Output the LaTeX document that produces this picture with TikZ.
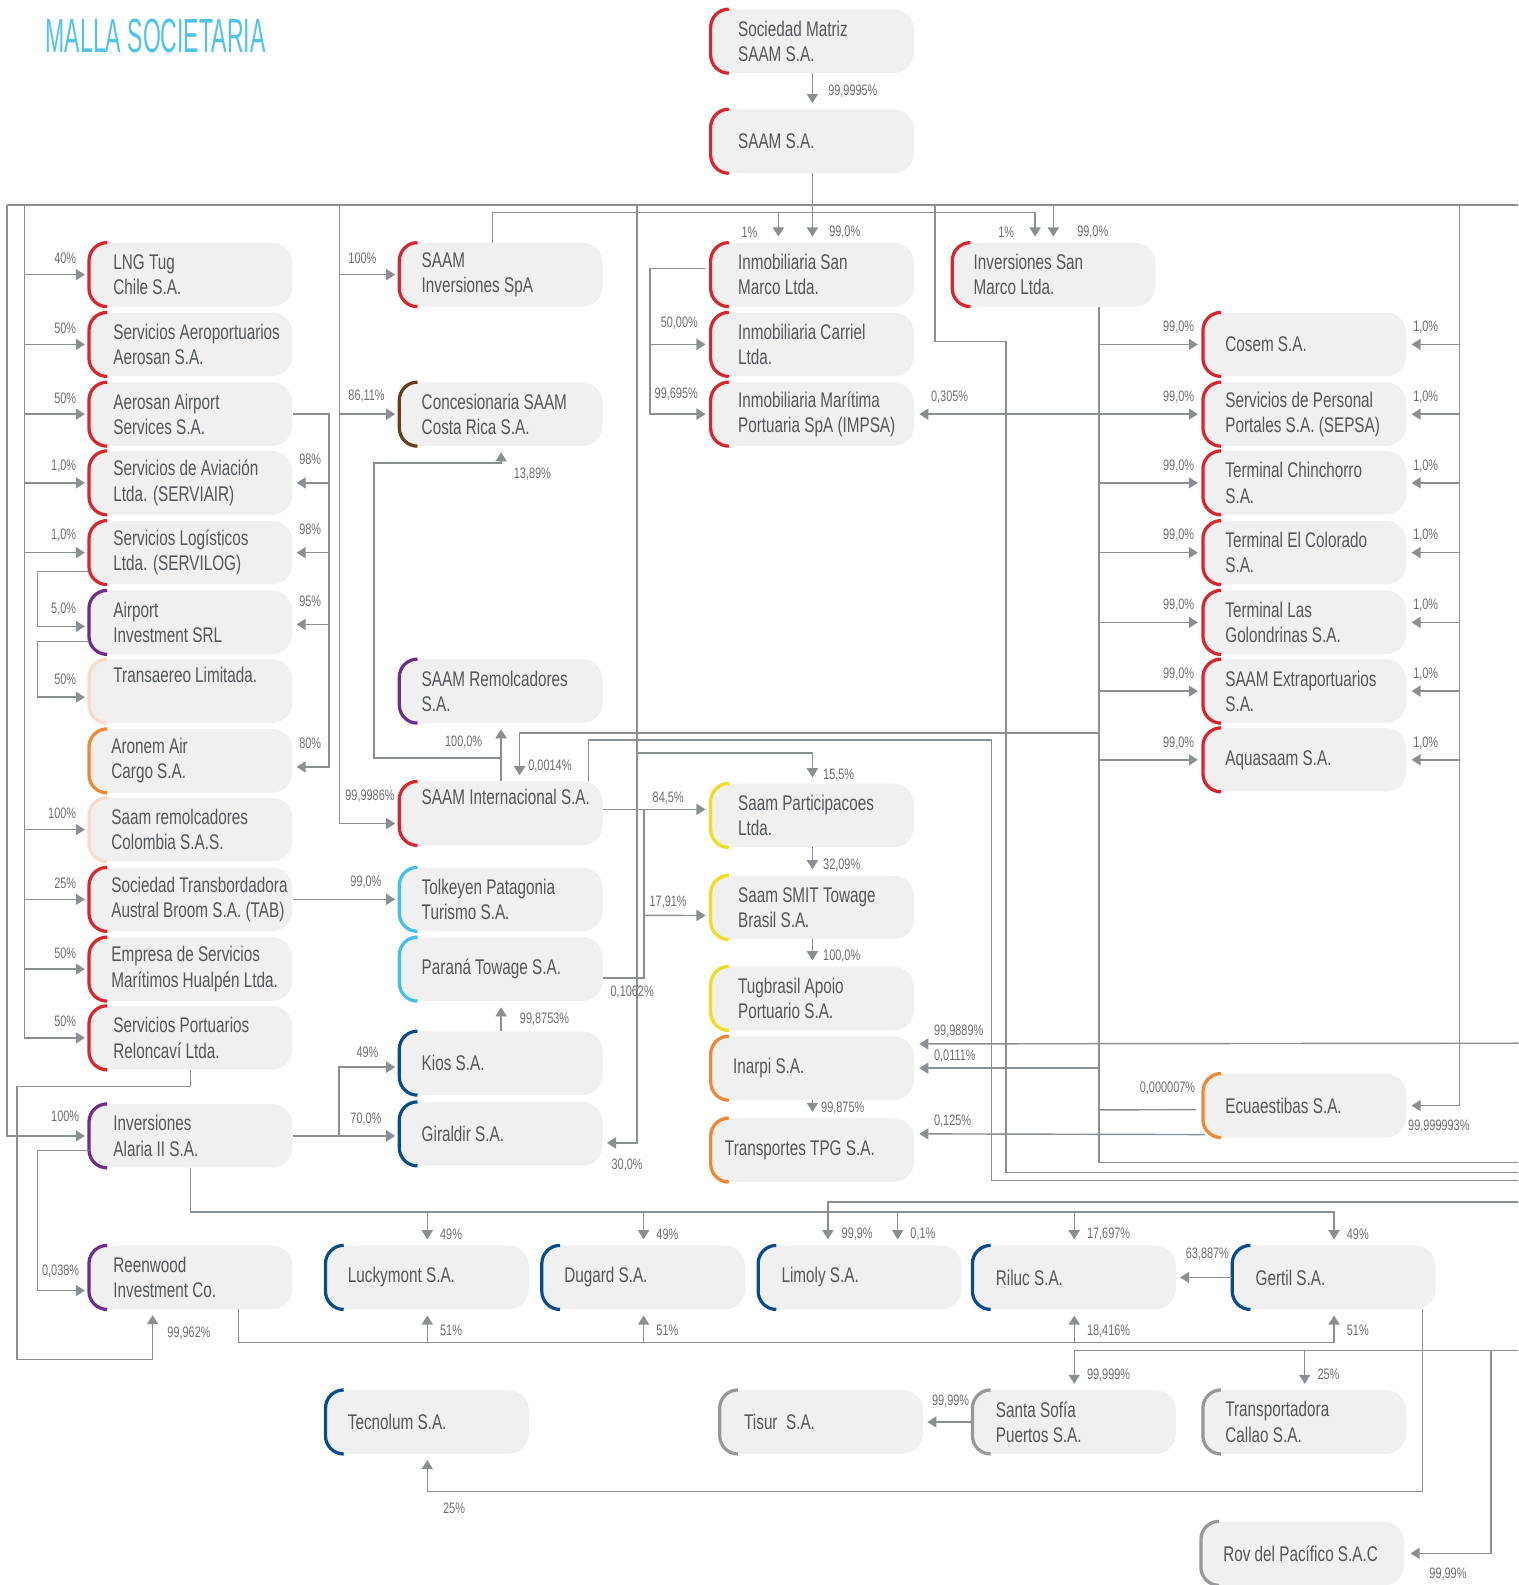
\documentclass[tikz,border=0pt]{standalone}
\usepackage{fontspec}
\setmainfont[FakeStretch=0.72]{Liberation Sans}
\newfontfamily\titlefont[FakeStretch=0.48]{Liberation Sans}
\usetikzlibrary{arrows.meta,positioning}
\definecolor{boxfill}{RGB}{240,240,240}
\definecolor{firmtxt}{RGB}{82,87,92}
\definecolor{linkgray}{RGB}{138,143,148}
\definecolor{pctgray}{RGB}{105,110,115}
\definecolor{titlecyan}{RGB}{80,195,235}
\definecolor{saamred}{RGB}{218,37,45}
\definecolor{saambrown}{RGB}{105,60,30}
\definecolor{saampurple}{RGB}{110,45,135}
\definecolor{saampeach}{RGB}{250,218,200}
\definecolor{saamorange}{RGB}{240,135,50}
\definecolor{saamsky}{RGB}{65,192,238}
\definecolor{saamyellow}{RGB}{238,222,30}
\definecolor{saamnavy}{RGB}{10,75,140}
\definecolor{saamgray}{RGB}{150,152,155}

\begin{document}
\begin{tikzpicture}[x=1pt, y=-1pt,
    firm/.style={fill=boxfill, rounded corners=20pt, minimum width=201pt, minimum height=63pt, anchor=north west, inner sep=0pt},
    firmtext/.style={anchor=west, align=left, inner sep=0pt, text=firmtxt, font=\fontsize{21pt}{25pt}\selectfont},
    bracket/.style={line width=3.2pt, draw=#1},
    link/.style={draw=linkgray, line width=1.4pt},
    arr/.style={link, -{Triangle[length=9pt, width=11pt]}},
    pct/.style={inner sep=0pt, text=pctgray, font=\fontsize{15pt}{17pt}\selectfont}]
  \useasboundingbox (0,0) rectangle (1502,1568);

  \node[anchor=base west, inner sep=0pt, text=titlecyan, font=\titlefont\fontsize{47.5pt}{50pt}\selectfont] (title) at (45,52) {MALLA SOCIETARIA};

  % companies: name/x/y/colour/text indent/text
  \foreach \nm/\px/\py/\col/\dx/\txt in {
      matriz/703/9/saamred/27/{Sociedad Matriz\\SAAM S.A.},
      saam/703/108/saamred/27/{SAAM S.A.},
      lng/88/240/saamred/24/{LNG Tug\\Chile S.A.},
      aerosan/88/309/saamred/24/{Servicios Aeroportuarios\\Aerosan S.A.},
      aas/88/378/saamred/24/{Aerosan Airport\\Services S.A.},
      serviair/88/446/saamred/24/{Servicios de Aviación\\Ltda. (SERVIAIR)},
      servilog/88/515/saamred/24/{Servicios Logísticos\\Ltda. (SERVILOG)},
      airport/88/584/saampurple/24/{Airport\\Investment SRL},
      transaereo/88/652/saampeach/24/{Transaereo Limitada.\\\strut},
      aronem/88/721/saamorange/22/{Aronem Air\\Cargo S.A.},
      colombia/88/789/saampeach/22/{Saam remolcadores\\Colombia S.A.S.},
      tab/88/858/saamred/22/{Sociedad Transbordadora\\Austral Broom S.A. (TAB)},
      hualpen/88/927/saamred/22/{Empresa de Servicios\\Marítimos Hualpén Ltda.},
      reloncavi/88/995/saamred/24/{Servicios Portuarios\\Reloncaví Ltda.},
      alaria/88/1092/saampurple/24/{Inversiones\\Alaria II S.A.},
      reenwood/88/1232/saampurple/24/{Reenwood\\Investment Co.},
      spa/395/240/saamred/22/{SAAM\\Inversiones SpA},
      costarica/395/378/saambrown/22/{Concesionaria SAAM\\Costa Rica S.A.},
      remolc/395/652/saampurple/22/{SAAM Remolcadores\\S.A.},
      sint/395/773/saamred/22/{SAAM Internacional S.A.\\\strut},
      tolkeyen/395/858/saamsky/22/{Tolkeyen Patagonia\\Turismo S.A.},
      parana/395/927/saamsky/22/{Paraná Towage S.A.},
      kios/395/1020/saamnavy/22/{Kios S.A.},
      giraldir/395/1090/saamnavy/22/{Giraldir S.A.},
      smarco/703/240/saamred/27/{Inmobiliaria San\\Marco Ltda.},
      carriel/703/309/saamred/27/{Inmobiliaria Carriel\\Ltda.},
      impsa/703/378/saamred/27/{Inmobiliaria Marítima\\Portuaria SpA (IMPSA)},
      partic/703/775/saamyellow/27/{Saam Participacoes\\Ltda.},
      smit/703/866/saamyellow/27/{Saam SMIT Towage\\Brasil S.A.},
      tugbrasil/703/956/saamyellow/27/{Tugbrasil Apoio\\Portuario S.A.},
      inarpi/703/1025/saamorange/22/{Inarpi S.A.},
      tpg/703/1106/saamorange/14/{Transportes TPG S.A.},
      invsm/942/240/saamred/21/{Inversiones San\\Marco Ltda.},
      cosem/1190/309/saamred/22/{Cosem S.A.},
      sepsa/1190/378/saamred/22/{Servicios de Personal\\Portales S.A. (SEPSA)},
      chinchorro/1190/446/saamred/22/{Terminal Chinchorro\\S.A.},
      colorado/1190/515/saamred/22/{Terminal El Colorado\\S.A.},
      golond/1190/584/saamred/22/{Terminal Las\\Golondrinas S.A.},
      extra/1190/652/saamred/22/{SAAM Extraportuarios\\S.A.},
      aquasaam/1190/720/saamred/22/{Aquasaam S.A.},
      ecua/1190/1062/saamorange/22/{Ecuaestibas S.A.},
      lucky/322/1232/saamnavy/22/{Luckymont S.A.},
      dugard/536/1232/saamnavy/22/{Dugard S.A.},
      limoly/750/1232/saamnavy/23/{Limoly S.A.},
      riluc/962/1232/saamnavy/23/{Riluc S.A.},
      gertil/1219/1232/saamnavy/23/{Gertil S.A.},
      tecnolum/322/1375/saamnavy/22/{Tecnolum S.A.},
      tisur/712/1375/saamgray/24/{Tisur\ \ S.A.},
      sofia/962/1375/saamgray/23/{Santa Sofía\\Puertos S.A.},
      callao/1190/1375/saamgray/22/{Transportadora\\Callao S.A.},
      rov/1188/1505/saamgray/22/{Rov del Pacífico S.A.C}}{
    \node[firm] (\nm) at (\px,\py) {};
    \node[firmtext] (\nm-t) at ([xshift=\dx pt]\nm.west) {\txt};
    \draw[bracket=\col] ([xshift=18pt]\nm.north west) arc[start angle=90, end angle=180, radius=18pt]
      -- ([yshift=18pt]\nm.south west) arc[start angle=180, end angle=270, radius=18pt];
  }

  % top of the tree
  \draw[arr] (matriz.south) -- ([yshift=6pt]saam.north) node[pct, right=15pt, yshift=12pt] (p-saam) {99,9995\%};
  \draw[link] (7,203) -- (1502,203);
  \draw[arr] (saam.south) -- ([yshift=6pt]smarco.north) node[pct, right=16pt, yshift=4pt] (p-sm99) {99,0\%};
  \draw[link] ([xshift=92pt]spa.north west) |- (1024,210);
  \draw[arr] (770,210) -- ([xshift=67pt,yshift=6pt]smarco.north west) node[pct, left=20pt, yshift=4pt] (p-sm1) {1\%};
  \draw[arr] (1024,210) -- ([xshift=82pt,yshift=6pt]invsm.north west) node[pct, left=20pt, yshift=4pt] (p-ism1) {1\%};
  \draw[arr] (1042,203) -- ([xshift=100pt,yshift=6pt]invsm.north west) node[pct, right=23pt, yshift=4pt] (p-ism99) {99,0\%};

  % left trunk
  \foreach \nm/\pc in {lng/40\%, aerosan/50\%, aas/50\%, serviair/{1,0\%}, servilog/{1,0\%}, colombia/100\%, tab/25\%, hualpen/50\%, reloncavi/50\%}
    \draw[arr] (24,203) |- ([xshift=-4pt]\nm.west) node[pct, above left=10pt and 8pt] (p-\nm) {\pc};
  \draw[arr] ([yshift=13pt]servilog.south west) -- ++(-51,0) |- ([xshift=-4pt,yshift=-4pt]airport.west) node[pct, above left=10pt and 8pt] (p-airport) {5,0\%};
  \draw[arr] ([yshift=13pt]airport.south west) -- ++(-51,0) |- ([xshift=-4pt,yshift=-6pt]transaereo.west) node[pct, above left=12pt and 8pt] (p-transaereo) {50\%};
  \foreach \nm/\pc/\dy in {serviair/98\%/0, servilog/98\%/0, airport/95\%/-2, aronem/80\%/-6}
    \draw[arr] (aas.east) -| ([xshift=36pt,yshift=\dy pt]\nm.east) -- ([xshift=4pt,yshift=\dy pt]\nm.east) node[pct, above right=17pt and 2pt] (p-\nm r) {\pc};
  \draw[arr] (7,203) |- ([xshift=-4pt]alaria.west) node[pct, above left=13pt and 5pt] (p-alaria) {100\%};
  \draw[arr] ([yshift=17pt]alaria.south west) -- ++(-51,0) |- ([xshift=-4pt,yshift=-13pt]reenwood.west) node[pct, above left=12pt and 5pt] (p-reen1) {0,038\%};
  \draw[arr] (reloncavi.south) |- (17,1075) |- (151,1345) -- (151,1301) node[pct, below right=11pt and 14pt] (p-reen2) {99,962\%};

  % second column
  \draw[arr] (336,203) |- ([xshift=-4pt]spa.west) node[pos=0.5, pct, above right=10pt and 8pt] (p-spa) {100\%};
  \draw[arr] (336,203) |- ([xshift=-4pt]costarica.west) node[pos=0.5, pct, above right=11pt and 8pt] (p-costa1) {86,11\%};
  \draw[arr] (336,203) |- ([xshift=-4pt,yshift=-10pt]sint.west) node[pos=0.5, pct, above right=20pt and 5pt] (p-sint) {99,9986\%};
  \draw[arr] (tab.east) -- ([xshift=-4pt]tolkeyen.west) node[pct, above left=10pt and 13pt] (p-tolkeyen) {99,0\%};
  \draw[arr] (alaria.east) -- ([xshift=-4pt]alaria.east -| giraldir.west) node[pct, above left=10pt and 13pt] (p-giraldir1) {70,0\%};
  \draw[arr] (alaria.east) -- ++(46,0) |- ([xshift=-4pt,yshift=-4pt]kios.west) node[pct, above left=9pt and 16pt] (p-kios) {49\%};
  \draw[arr] (kios.north) -- ([yshift=-6pt]parana.south) node[midway, pct, right=18pt] (p-parana) {99,8753\%};
  \draw[arr] (sint.north) -- ([yshift=-6pt]remolc.south) node[pos=0.75, pct, left=18pt] (p-remolc) {100,0\%};
  \draw[arr] ([yshift=23pt]sint.north) -| (370,458) -| ([yshift=-6pt]costarica.south) node[pct, below right=15pt and 12pt] (p-costa2) {13,89\%};

  % Inversiones San Marco trunk
  \coordinate (ism) at ([xshift=145pt]invsm.south west);
  \draw[link] (ism) |- (1502,1150);
  \foreach \nm in {cosem, sepsa, chinchorro, colorado, golond, extra, aquasaam}{
    \draw[arr] (ism |- \nm.west) -- ([xshift=-5pt]\nm.west) node[pct, above left=10pt and 3pt] (p-\nm l) {99,0\%};
    \draw[arr] (\nm.east -| 1444,0) -- ([xshift=5pt]\nm.east) node[pct, above right=10pt and 1pt] (p-\nm r) {1,0\%};
  }
  \draw[arr] (ism |- sepsa.west) -- ([xshift=5pt]impsa.east) node[pct, above right=10pt and 11pt] (p-impsa2) {0,305\%};
  \draw[arr] (ism |- 0,725) -| ([xshift=119pt,yshift=6pt]sint.north west) node[pct, right=8pt, yshift=9pt] (p-sint2) {0,0014\%};
  \draw[arr] (ism |- inarpi.east) -- ([xshift=5pt]inarpi.east) node[pct, above right=5pt and 14pt] (p-inarpi2) {0,0111\%};
  \draw[arr] (1502,1032) -- ([xshift=5pt,yshift=24pt]inarpi.east) node[pct, above right=6pt and 14pt] (p-inarpi1) {99,9889\%};
  \draw[link] (ism |- 0,1098) -- ([xshift=-7pt,yshift=-4pt]ecua.west) node[pct, above left=14pt and 0pt] (p-ecua2) {0,000007\%};
  \draw[arr] ([xshift=2pt,yshift=3pt]ecua.south west) -- ([xshift=5pt,yshift=16pt]tpg.east) node[pct, above right=6pt and 14pt] (p-tpg2) {0,125\%};
  \draw[arr] (1444,203) |- ([xshift=5pt]ecua.east) node[pct, below right=13pt and -4pt] (p-ecua1) {99,999993\%};
  \draw[link] (925,203) |- (995,338) |- (1502,1160);
  \draw[link] ([xshift=187pt]sint.north west) |- (981,732) |- (1502,1168);

  % third column
  \draw[arr] ([xshift=-6pt,yshift=6pt]smarco.west) -| ([xshift=-60pt]carriel.west) -- ([xshift=-5pt]carriel.west) node[pct, above left=14pt and 7pt] (p-carriel) {50,00\%};
  \draw[arr] ([xshift=-60pt]carriel.west) |- ([xshift=-5pt]impsa.west) node[pct, above left=13pt and 7pt] (p-impsa1) {99,695\%};
  \draw[arr] (630,203) |- ([xshift=4pt,yshift=-9pt]giraldir.east) node[pct, below right=15pt and 4pt] (p-giraldir2) {30,0\%};
  \draw[arr] (630,745) -| ([yshift=6pt]partic.north) node[pct, right=10pt, yshift=2pt] (p-partic1) {15,5\%};
  \draw[arr] ([yshift=4pt]sint.east) -- ([xshift=-5pt,yshift=6pt]partic.west) node[pct, above left=4pt and 21pt] (p-partic2) {84,5\%};
  \draw[link] ([yshift=-9pt]parana.east) -| (637,800.5) node[pos=0, pct, below right=7pt and 7pt] (p-smit2) {0,1062\%};
  \draw[arr] (637,905.5) -- ([xshift=-5pt,yshift=-8pt]smit.west) node[pct, above left=6pt and 18pt] (p-smit3) {17,91\%};
  \draw[arr] (partic.south) -- ([yshift=6pt]smit.north) node[pct, right=10pt, yshift=4pt] (p-smit1) {32,09\%};
  \draw[arr] (smit.south) -- ([yshift=6pt]tugbrasil.north) node[pct, right=10pt, yshift=4pt] (p-tug) {100,0\%};
  \draw[arr] (inarpi.south) -- ([yshift=6pt]tpg.north) node[pct, right=8pt, yshift=4pt] (p-tpg1) {99,875\%};

  % bottom rows
  \draw[link] (alaria.south) |- (1321,1199);
  \foreach \nm/\pc in {lucky/49\%, dugard/49\%, riluc/{17,697\%}, gertil/49\%}
    \draw[arr] (\nm.north |- 0,1199) -- ([yshift=6pt]\nm.north) node[pct, right=12pt, yshift=5pt] (p-\nm d) {\pc};
  \draw[arr] (888,1199) -- ([xshift=138pt,yshift=6pt]limoly.north west) node[pct, right=12pt, yshift=5pt] (p-limoly2) {0,1\%};
  \draw[arr] (1502,1189) -| ([xshift=69pt,yshift=6pt]limoly.north west) node[pct, right=13pt, yshift=5pt] (p-limoly1) {99,9\%};
  \draw[link] ([xshift=148pt]reenwood.south west) |- (1321,1328);
  \foreach \nm/\pc in {lucky/51\%, dugard/51\%, riluc/{18,416\%}, gertil/51\%}
    \draw[arr] (\nm.south |- 0,1328) -- ([yshift=-6pt]\nm.south) node[pct, right=12pt, yshift=-15pt] (p-\nm u) {\pc};
  \draw[arr] (gertil.west) -- ([xshift=4pt]riluc.east) node[pct, above right=16pt and 5pt] (p-riluc) {63,887\%};
  \draw[arr] ([xshift=188pt]gertil.south west) |- ([yshift=-37pt]tecnolum.south) node[pct, below right=11pt and 15pt] (p-tecnolum) {25\%} -- ([yshift=-6pt]tecnolum.south);
  \draw[link] (1502,1336) -- (sofia.north |- 0,1336);
  \draw[arr] (sofia.north |- 0,1336) -- ([yshift=6pt]sofia.north) node[pct, right=12pt, yshift=9pt] (p-sofia) {99,999\%};
  \draw[arr] (callao.north |- 0,1336) -- ([yshift=6pt]callao.north) node[pct, right=12pt, yshift=9pt] (p-callao) {25\%};
  \draw[arr] (1475,1336) |- ([xshift=6pt]rov.east) node[pct, below right=14pt and 18pt] (p-rov) {99,99\%};
  \draw[arr] (sofia.west) -- ([xshift=4pt]tisur.east) node[pct, above right=14pt and 4pt] (p-tisur) {99,99\%};
\end{tikzpicture}
\end{document}
